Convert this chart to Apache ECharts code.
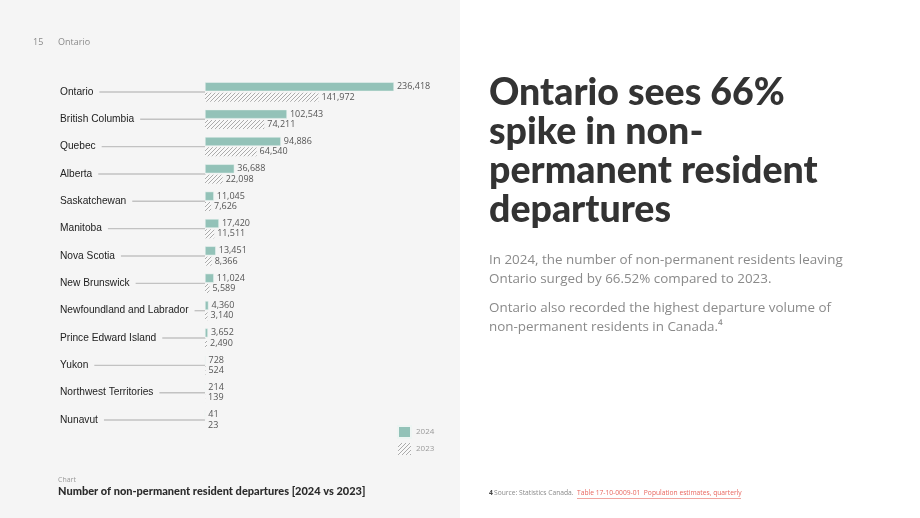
<!DOCTYPE html>
<html>
<head>
<meta charset="utf-8">
<script src="https://cdn.jsdelivr.net/npm/echarts@6/dist/echarts.min.js"></script>
<style>
  html, body { margin: 0; padding: 0; background: #fff; }
  #main { width: 920px; height: 518px; }
</style>
</head>
<body>
<div id="main"></div>
<script>
// data
var provinces = ['Ontario', 'British Columbia', 'Quebec', 'Alberta', 'Saskatchewan', 'Manitoba',
  'Nova Scotia', 'New Brunswick', 'Newfoundland and Labrador', 'Prince Edward Island',
  'Yukon', 'Northwest Territories', 'Nunavut'];
var departures2024 = [236418, 102543, 94886, 36688, 11045, 17420, 13451, 11024, 4360, 3652, 728, 214, 41];
var departures2023 = [141972, 74211, 64540, 22098, 7626, 11511, 8366, 5589, 3140, 2490, 524, 139, 23];

var labelFont = '10.2px "Liberation Sans", Arial, sans-serif';

// hatch pattern for 2023
function makeHatch() {
  var c = document.createElement('canvas');
  c.width = 4; c.height = 4;
  var ctx = c.getContext('2d');
  ctx.fillStyle = '#f8f8f8';
  ctx.fillRect(0, 0, 4, 4);
  ctx.strokeStyle = '#ababab';
  ctx.lineWidth = 1;
  ctx.beginPath();
  ctx.moveTo(0, 4); ctx.lineTo(4, 0);
  ctx.moveTo(-1, 1); ctx.lineTo(1, -1);
  ctx.moveTo(3, 5); ctx.lineTo(5, 3);
  ctx.stroke();
  return c;
}

// width of category names, for the leader lines
var measure = document.createElement('canvas').getContext('2d');
measure.font = labelFont;
var leaderData = provinces.map(function (p, i) {
  return [0, i, measure.measureText(p).width];
});

var myChart = echarts.init(document.getElementById('main'));
var option;

option = {
  backgroundColor: '#fff',
  animation: false,
  graphic: [
    { type: 'rect', shape: { x: 0, y: 0, width: 460, height: 518 }, style: { fill: '#f5f5f5' }, z: -10 },
    { type: 'text', left: 33, top: 38, style: { text: '15', fill: '#8a8a8a', font: '9px "Open Sans", sans-serif' } },
    { type: 'text', left: 58, top: 38, style: { text: 'Ontario', fill: '#8a8a8a', font: '9px "Open Sans", sans-serif' } },
    { type: 'text', left: 58, top: 476, style: { text: 'Chart', fill: '#9a9a9a', font: '7px "Open Sans", sans-serif' } },
    { type: 'text', left: 58, top: 486, style: { text: 'Number of non-permanent resident departures [2024 vs 2023]', fill: '#2b2b2b', font: '900 11px Lato, sans-serif' } },
    { type: 'text', left: 489, top: 73, style: { text: 'Ontario sees 66%\nspike in non-\npermanent resident\ndepartures', fill: '#333', font: '900 37.5px Lato, sans-serif', lineHeight: 39.2 } },
    { type: 'text', left: 489, top: 250, style: { text: 'In 2024, the number of non-permanent residents leaving\nOntario surged by 66.52% compared to 2023.', fill: '#8a8a8a', font: '13.4px "Open Sans", sans-serif', lineHeight: 19.5 } },
    { type: 'text', left: 489, top: 298, style: { text: 'Ontario also recorded the highest departure volume of\nnon-permanent residents in Canada.\u2074', fill: '#8a8a8a', font: '13.4px "Open Sans", sans-serif', lineHeight: 19.5 } },
    { type: 'text', left: 489, top: 490, style: { text: '4', fill: '#444', font: 'bold 6.7px "Open Sans", sans-serif' } },
    { type: 'text', left: 494, top: 490, style: { text: 'Source: Statistics Canada.', fill: '#8a8a8a', font: '6.7px "Open Sans", sans-serif' } },
    { type: 'text', left: 577, top: 490, style: { text: 'Table 17-10-0009-01  Population estimates, quarterly', fill: '#e8665e', font: '6.7px "Open Sans", sans-serif' } },
    { type: 'line', shape: { x1: 577, y1: 498.5, x2: 741, y2: 498.5 }, style: { stroke: '#e8665e', lineWidth: 0.6 } }
  ],
  legend: {
    data: ['2024', '2023'],
    orient: 'vertical',
    left: 392,
    top: 420,
    itemWidth: 13,
    itemHeight: 12,
    itemGap: 4,
    icon: 'rect',
    textStyle: { fontSize: 8, color: '#9a9a9a', fontFamily: 'Open Sans' }
  },
  grid: { left: 205, top: 78.3, width: 239.8, height: 355.4, containLabel: false },
  xAxis: { type: 'value', min: 0, max: 300000, show: false },
  yAxis: {
    type: 'category',
    data: provinces,
    inverse: true,
    axisLine: { show: false },
    axisTick: { show: false },
    axisLabel: {
      align: 'left',
      margin: 145,
      color: '#222',
      fontSize: 10.2,
      fontFamily: '"Liberation Sans", Arial, sans-serif'
    }
  },
  series: [
    {
      name: 'leaders',
      type: 'custom',
      data: leaderData,
      silent: true,
      z: 1,
      renderItem: function (params, api) {
        var p = api.coord([0, api.value(1)]);
        var x0 = 60 + api.value(2) + 6;
        return {
          type: 'line',
          shape: { x1: x0, y1: p[1], x2: p[0], y2: p[1] },
          style: { stroke: '#c2c2c2', lineWidth: 1.4 }
        };
      }
    },
    {
      name: '2024',
      type: 'bar',
      data: departures2024,
      barWidth: 9,
      barGap: '15%',
      z: 3,
      itemStyle: { color: '#93c2b8', borderColor: '#eef5f3', borderWidth: 0.5 },
      label: {
        show: true, position: 'right', distance: 3,
        color: '#555', fontSize: 9, fontFamily: 'Open Sans',
        formatter: function (p) { return p.value.toLocaleString('en-US'); }
      }
    },
    {
      name: '2023',
      type: 'bar',
      data: departures2023,
      barWidth: 9,
      z: 3,
      itemStyle: { color: { image: makeHatch(), repeat: 'repeat' } },
      label: {
        show: true, position: 'right', distance: 3,
        color: '#555', fontSize: 9, fontFamily: 'Open Sans',
        formatter: function (p) { return p.value.toLocaleString('en-US'); }
      }
    }
  ]
};

option && myChart.setOption(option);
</script>
</body>
</html>
